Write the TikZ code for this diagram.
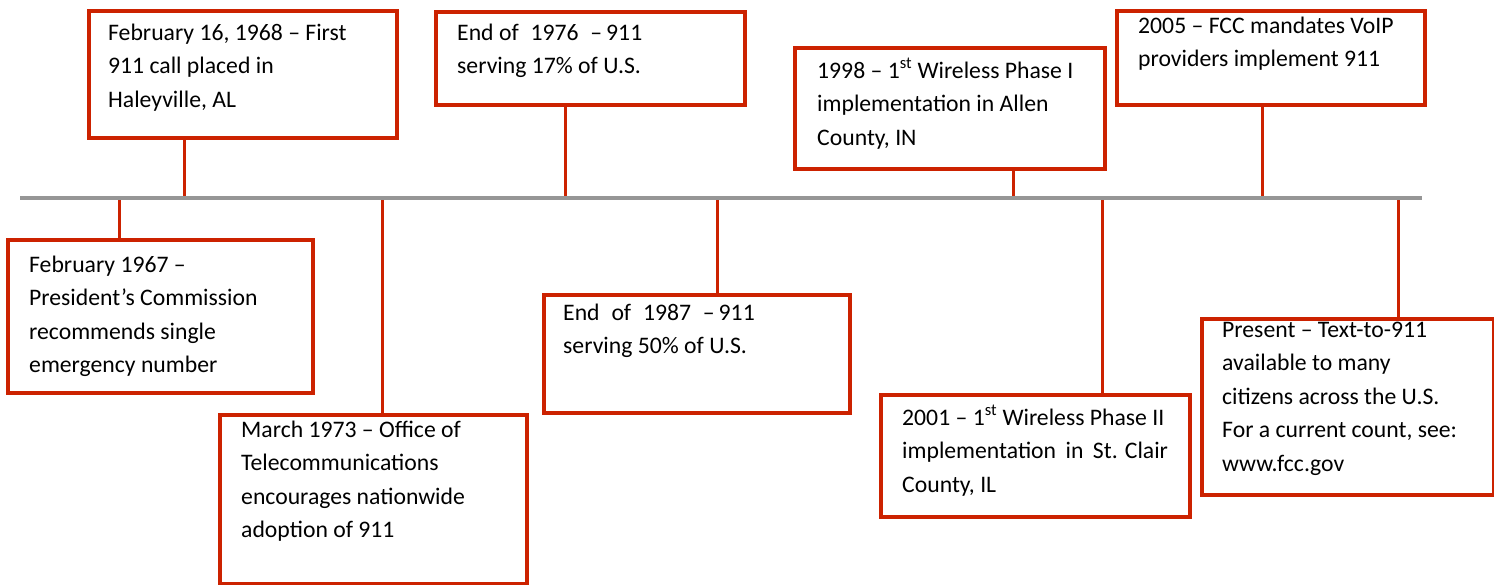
\documentclass[tikz,border=0pt]{standalone}
\usepackage{fontspec}
\setmainfont{Carlito}
\definecolor{evred}{RGB}{204,34,0}
\definecolor{tlgray}{RGB}{150,150,150}
\newcommand{\evfont}{\fontsize{23.7}{33.5}\selectfont}
\newcommand{\evlines}[1]{\parbox[t]{290pt}{\raggedright #1}}
\begin{document}
\begin{tikzpicture}[x=1pt, y=-1pt]
  \tikzstyle{evbox}=[draw=evred, line width=3.5pt, fill=white, anchor=north west, inner sep=0pt]
  \tikzstyle{evtext}=[anchor=base west, inner sep=0pt, font=\evfont]
  \tikzstyle{link}=[draw=evred, line width=3pt]

  \useasboundingbox (0,0) rectangle (1494,584);

  % timeline
  \coordinate (tl0) at (20,198);
  \coordinate (tl1) at (1422,198);

  % events above the line
  \node[evbox, minimum width=308pt, minimum height=127pt] (e1) at (87,9) {};
  \node[evtext] (t1) at (108,40) {\evlines{February 16, 1968 -- First\\911 call placed in\\Haleyville, AL}};
  \node[evbox, minimum width=309pt, minimum height=93pt] (e2) at (434,10) {};
  \node[evtext] (t2) at (457,40) {\evlines{End of\hspace{0.5em}1976\hspace{0.5em}--\,911\\serving 17\% of U.S.}};
  \node[evbox, minimum width=310pt, minimum height=121pt] (e3) at (793,46) {};
  \node[evtext] (t3) at (817,78) {\evlines{1998 -- 1\textsuperscript{st} Wireless Phase I\\implementation in Allen\\County, IN}};
  \node[evbox, minimum width=308pt, minimum height=94pt] (e4) at (1115,9) {};
  \node[evtext] (t4) at (1138,33) {\evlines{2005 -- FCC mandates VoIP\\providers implement 911}};

  % events below the line
  \node[evbox, minimum width=305pt, minimum height=153pt] (e5) at (6,238) {};
  \node[evtext] (t5) at (29,272) {\evlines{February 1967 --\\President's Commission\\recommends single\\emergency number}};
  \node[evbox, minimum width=307pt, minimum height=169pt] (e6) at (218,413) {};
  \node[evtext] (t6) at (241,437) {\evlines{March 1973 -- Office of\\Telecommunications\\encourages nationwide\\adoption of 911}};
  \node[evbox, minimum width=306pt, minimum height=118pt] (e7) at (542,293) {};
  \node[evtext] (t7) at (563,320) {\evlines{End\hspace{0.5em}of\hspace{0.5em}1987\hspace{0.5em}--\,911\\serving 50\% of U.S.}};
  \node[evbox, minimum width=309pt, minimum height=122pt] (e8) at (879,393) {};
  \node[evtext] (t8) at (902,425) {\evlines{2001 -- 1\textsuperscript{st} Wireless Phase II\\implementation\hspace{0.4em}in\hspace{0.4em}St. Clair\\County, IL}};
  \node[evbox, minimum width=292pt, minimum height=176pt] (e9) at (1200,317) {};
  \node[evtext] (t9) at (1222,337) {\evlines{Present -- Text-to-911\\available to many\\citizens across the U.S.\\For a current count, see:\\www.fcc.gov}};

  % connectors
  \coordinate (p1) at (184,198);
  \coordinate (p2) at (565,198);
  \coordinate (p3) at (1013,198);
  \coordinate (p4) at (1262,198);
  \coordinate (p5) at (119,198);
  \coordinate (p6) at (382,198);
  \coordinate (p7) at (717,198);
  \coordinate (p8) at (1102,198);
  \coordinate (p9) at (1398,198);

  \path[link] (p1) -- (p1 |- e1.south);
  \path[link] (p2) -- (p2 |- e2.south);
  \path[link] (p3) -- (p3 |- e3.south);
  \path[link] (p4) -- (p4 |- e4.south);
  \path[link] (p5) -- (p5 |- e5.north);
  \path[link] (p6) -- (p6 |- e6.north);
  \path[link] (p7) -- (p7 |- e7.north);
  \path[link] (p8) -- (p8 |- e8.north);
  \path[link] (p9) -- (p9 |- e9.north);

  \draw[tlgray, line width=4pt] (tl0) -- (tl1);

\end{tikzpicture}
\end{document}
